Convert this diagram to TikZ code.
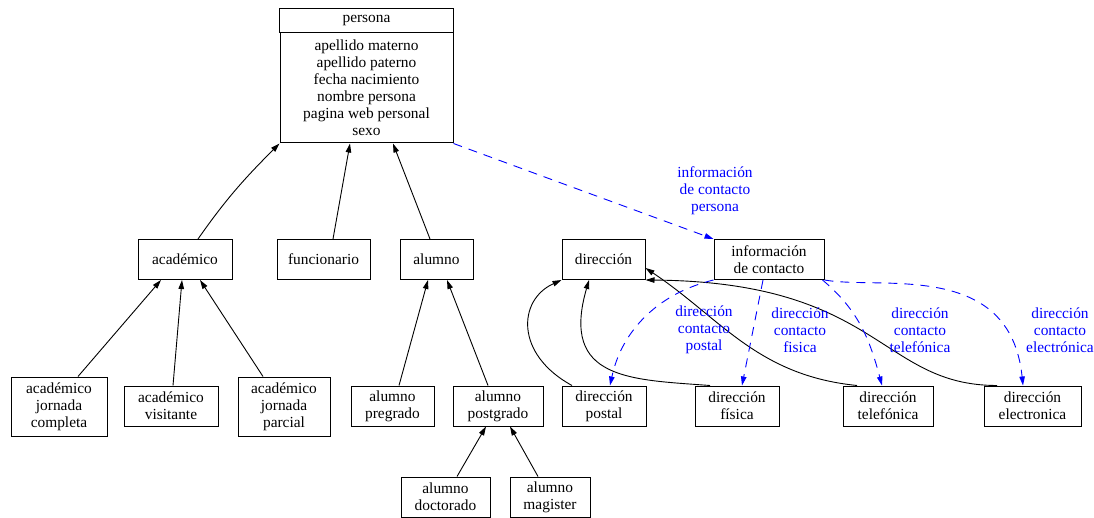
\documentclass[tikz,border=0pt]{standalone}
\usepackage{fontspec}
\setmainfont{Liberation Serif}
\usetikzlibrary{arrows.meta}
\tikzset{
  entidad/.style={draw, line width=1pt, align=center, inner sep=0pt, minimum height=40pt},
  hereda/.style={-{Triangle[length=9pt,width=5.5pt]}, line width=0.9pt},
  relacion/.style={-{Triangle[length=9pt,width=5.5pt]}, line width=0.9pt, blue, dash pattern=on 9pt off 7pt},
  etiqueta/.style={text=blue, align=center, inner sep=0pt}
}
\begin{document}
\begin{tikzpicture}[x=1pt, y=1pt, font=\fontsize{15.4}{17}\selectfont]
        \useasboundingbox (0,0) rectangle (1094,-518);
        %% Persona
        \node[entidad, draw=none, minimum width=173pt, minimum height=23pt] (personatit) at (366.5,-20.5) {persona};
        \node[entidad, minimum width=173pt, minimum height=110pt, anchor=north] (persona) at (personatit.south) {apellido materno\\apellido paterno\\fecha nacimiento\\nombre persona\\pagina web personal\\sexo};
        \draw[line width=1pt] (personatit.north west) rectangle (persona.north east);
        %% Primer nivel
        \node[entidad, minimum width=94pt] (academico) at (185,-259.5) {académico};
        \node[entidad, minimum width=93pt] (funcionario) at (323.5,-259.5) {funcionario};
        \node[entidad, minimum width=73pt] (alumno) at (436.5,-259.5) {alumno};
        \node[entidad, minimum width=83pt] (direccion) at (603.5,-259.5) {dirección};
        \node[entidad, minimum width=110pt] (infocontacto) at (769,-259.5) {información\\de contacto};
        %% Segundo nivel
        \node[entidad, minimum width=96pt, minimum height=59pt] (acadcompleta) at (59,-406.5) {académico\\jornada\\completa};
        \node[entidad, minimum width=94pt] (acadvisitante) at (171,-406) {académico\\visitante};
        \node[entidad, minimum width=92pt, minimum height=59pt] (acadparcial) at (284,-406.5) {académico\\jornada\\parcial};
        \node[entidad, minimum width=83pt] (pregrado) at (392.5,-406) {alumno\\pregrado};
        \node[entidad, minimum width=90pt] (postgrado) at (498,-406) {alumno\\postgrado};
        \node[entidad, minimum width=84pt] (dirpostal) at (604,-406) {dirección\\postal};
        \node[entidad, minimum width=84pt] (dirfisica) at (737,-406) {dirección\\física};
        \node[entidad, minimum width=90pt] (dirtelefonica) at (888,-406) {dirección\\telefónica};
        \node[entidad, minimum width=97pt] (direlectronica) at (1032.5,-406) {dirección\\electronica};
        %% Tercer nivel
        \node[entidad, minimum width=89pt] (doctorado) at (445.5,-497) {alumno\\doctorado};
        \node[entidad, minimum width=80pt] (magister) at (550,-497) {alumno\\magister};
        %% Herencia
        \draw[hereda] ([xshift=13pt]academico.north) to[out=55,in=-135] (persona.south west);
        \draw[hereda] ([xshift=9.5pt]funcionario.north) -- ([xshift=-16.5pt]persona.south);
        \draw[hereda] ([xshift=-6.5pt]alumno.north) -- ([xshift=26.5pt]persona.south);
        \draw[hereda] ([xshift=19pt]acadcompleta.north) -- ([xshift=-24pt]academico.south);
        \draw[hereda] ([xshift=2pt]acadvisitante.north) -- ([xshift=-3pt]academico.south);
        \draw[hereda] ([xshift=-21pt]acadparcial.north) -- ([xshift=15pt]academico.south);
        \draw[hereda] ([xshift=6.5pt]pregrado.north) -- ([xshift=-8.5pt]alumno.south);
        \draw[hereda] ([xshift=-10pt]postgrado.north) -- ([xshift=10.5pt]alumno.south);
        \draw[hereda] ([xshift=11.5pt]doctorado.north) -- ([xshift=-12pt]postgrado.south);
        \draw[hereda] ([xshift=-12pt]magister.north) -- ([xshift=12pt]postgrado.south);
        %% Tipos de direccion
        \draw[hereda] ([xshift=-32pt]dirpostal.north) .. controls +(-57,31) and +(-44,-20) .. (direccion.south west);
        \draw[hereda] ([xshift=-27pt]dirfisica.north) .. controls +(-80,6) and +(-29,-100) .. ([xshift=-14.5pt]direccion.south);
        \draw[hereda] ([xshift=-31pt]dirtelefonica.north) .. controls +(-100,10) and +(75,-50) .. ([yshift=-8.5pt]direccion.east);
        \draw[hereda] ([xshift=-35.5pt]direlectronica.north) .. controls +(-117,0) and +(235,-2) .. (direccion.south east);
        %% Informacion de contacto
        \draw[relacion] (persona.south east) -- (infocontacto.north west);
        \draw[relacion] (infocontacto.south west) .. controls +(-54,-13) and +(12,56) .. ([xshift=6pt]dirpostal.north);
        \draw[relacion] ([xshift=-6pt]infocontacto.south) -- ([xshift=5pt]dirfisica.north);
        \draw[relacion] ([xshift=-2pt]infocontacto.south east) to[out=-40,in=105] ([xshift=-6pt]dirtelefonica.north);
        \draw[relacion] (infocontacto.south east) .. controls +(56,-10) and +(-13,126) .. ([xshift=-9.5pt]direlectronica.north);
        %% Etiquetas
        \node[etiqueta] (lblinfo) at (715,-191) {información\\de contacto\\persona};
        \node[etiqueta] (lblpostal) at (704,-330) {dirección\\contacto\\postal};
        \node[etiqueta] (lblfisica) at (800,-330) {dirección\\contacto\\fisica};
        \node[etiqueta] (lbltelefonica) at (920,-330) {dirección\\contacto\\telefónica};
        \node[etiqueta] (lblelectronica) at (1060,-330) {dirección\\contacto\\electrónica};
\end{tikzpicture}
\end{document}
